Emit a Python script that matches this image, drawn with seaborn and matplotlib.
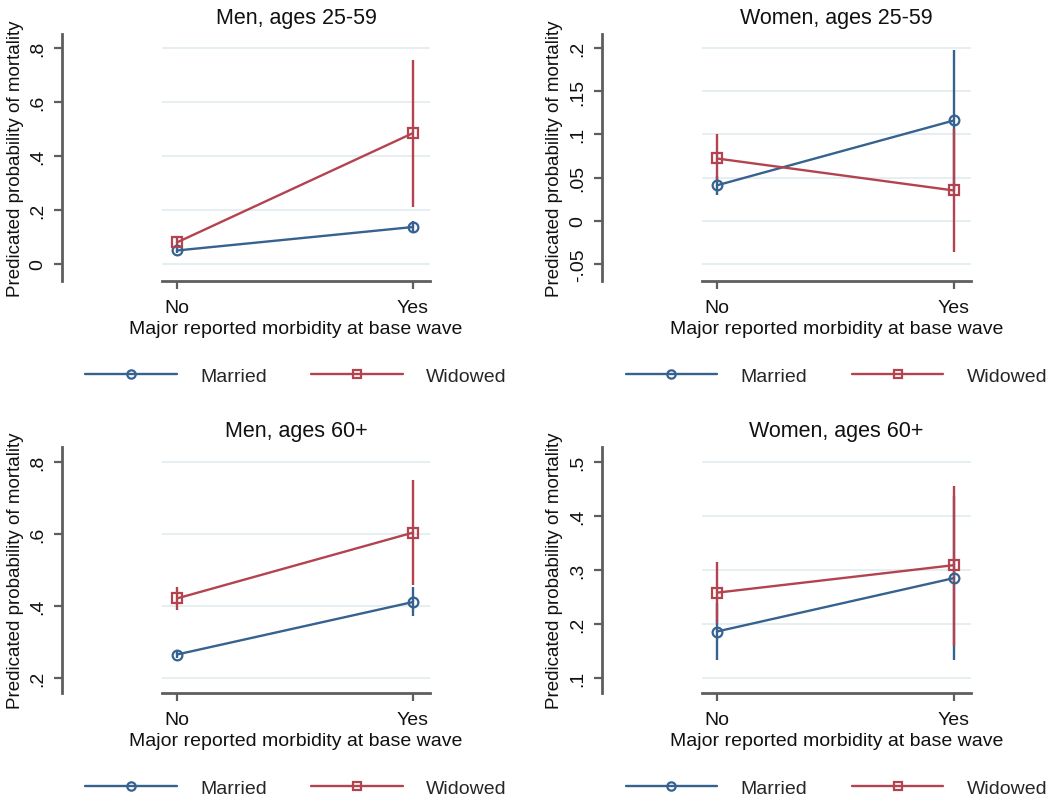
import matplotlib
matplotlib.use("Agg")
import matplotlib.pyplot as plt
from matplotlib.lines import Line2D
import seaborn as sns
import pandas as pd

sns.set_theme(style="white")
plt.rcParams['font.family'] = ['Liberation Sans', 'DejaVu Sans']

# ---------------- data ----------------
categories = ["No", "Yes"]
groups = ["Married", "Widowed"]
titles = ["Men, ages 25-59", "Women, ages 25-59", "Men, ages 60+", "Women, ages 60+"]

# Men 25-59
m_young_married_est = [0.050, 0.137]
m_young_married_lo = [0.040, 0.116]
m_young_married_hi = [0.060, 0.158]
m_young_widowed_est = [0.080, 0.485]
m_young_widowed_lo = [0.060, 0.212]
m_young_widowed_hi = [0.100, 0.757]
# Women 25-59
w_young_married_est = [0.041, 0.116]
w_young_married_lo = [0.030, 0.034]
w_young_married_hi = [0.052, 0.198]
w_young_widowed_est = [0.072, 0.035]
w_young_widowed_lo = [0.045, -0.036]
w_young_widowed_hi = [0.100, 0.106]
# Men 60+
m_old_married_est = [0.265, 0.411]
m_old_married_lo = [0.255, 0.372]
m_old_married_hi = [0.275, 0.452]
m_old_widowed_est = [0.421, 0.604]
m_old_widowed_lo = [0.388, 0.457]
m_old_widowed_hi = [0.453, 0.750]
# Women 60+
w_old_married_est = [0.186, 0.285]
w_old_married_lo = [0.133, 0.133]
w_old_married_hi = [0.238, 0.437]
w_old_widowed_est = [0.258, 0.309]
w_old_widowed_lo = [0.201, 0.160]
w_old_widowed_hi = [0.315, 0.455]

yticks_list = [
    [0, 0.2, 0.4, 0.6, 0.8],
    [-0.05, 0, 0.05, 0.1, 0.15, 0.2],
    [0.2, 0.4, 0.6, 0.8],
    [0.1, 0.2, 0.3, 0.4, 0.5],
]
yticklabels_list = [
    ["0", ".2", ".4", ".6", ".8"],
    ["-.05", "0", ".05", ".1", ".15", ".2"],
    [".2", ".4", ".6", ".8"],
    [".1", ".2", ".3", ".4", ".5"],
]
ylims = [(-0.063, 0.852), (-0.0697, 0.216), (0.158, 0.842), (0.072, 0.528)]

panels = [
    ((m_young_married_est, m_young_married_lo, m_young_married_hi),
     (m_young_widowed_est, m_young_widowed_lo, m_young_widowed_hi)),
    ((w_young_married_est, w_young_married_lo, w_young_married_hi),
     (w_young_widowed_est, w_young_widowed_lo, w_young_widowed_hi)),
    ((m_old_married_est, m_old_married_lo, m_old_married_hi),
     (m_old_widowed_est, m_old_widowed_lo, m_old_widowed_hi)),
    ((w_old_married_est, w_old_married_lo, w_old_married_hi),
     (w_old_widowed_est, w_old_widowed_lo, w_old_widowed_hi)),
]

colors = {"Married": "#36628f", "Widowed": "#b3434f"}
markers = {"Married": "o", "Widowed": "s"}
spine_col = "#5e5e5e"
grid_col = "#e3eef0"

W, H = 1057, 804
fig = plt.figure(figsize=(W / 100, H / 100), dpi=100)

# axes boxes in pixel coords (left, top, right, bottom)
boxes = [(162, 35, 430, 282), (702, 35, 971, 282),
         (162, 448, 430, 694), (702, 448, 971, 694)]

for i, (box, data) in enumerate(zip(boxes, panels)):
    l, t, r, b = box
    ax = fig.add_axes([l / W, 1 - b / H, (r - l) / W, (b - t) / H])
    rows = []
    for g, (est, lo, hi) in zip(groups, data):
        for xi, c in enumerate(categories):
            rows.append({"x": xi, "cat": c, "group": g, "est": est[xi],
                         "lo": lo[xi], "hi": hi[xi]})
    df = pd.DataFrame(rows)

    for k, g in enumerate(groups):
        sub = df[df["group"] == g]
        ax.vlines(sub["x"], sub["lo"], sub["hi"], color=colors[g], lw=1.7,
                  zorder=2 + k * 0.2)
    sns.lineplot(data=df, x="x", y="est", hue="group", style="group",
                 hue_order=groups, style_order=groups,
                 palette=colors, markers=markers, dashes=False,
                 lw=1.7, markersize=7, legend=False, ax=ax, zorder=3)
    for line in ax.lines:
        line.set_markeredgecolor(line.get_color())
        line.set_markerfacecolor("none")
        line.set_markeredgewidth(1.6)

    ax.set_xlim(-0.0636, 1.072)
    ax.set_ylim(*ylims[i])
    ax.set_xticks([0, 1])
    ax.set_xticklabels(categories)
    ax.set_yticks(yticks_list[i])
    ax.set_yticklabels(yticklabels_list[i])
    ax.yaxis.grid(True, color=grid_col, lw=1.3)
    ax.xaxis.grid(False)
    ax.set_axisbelow(True)

    for s in ["top", "right"]:
        ax.spines[s].set_visible(False)
    ax.spines["left"].set_position(("outward", 72))
    for s in ["left", "bottom"]:
        ax.spines[s].set_color(spine_col)
        ax.spines[s].set_linewidth(2)
    ax.tick_params(axis="both", direction="out", length=6, width=1.6,
                   color=spine_col, labelcolor="#111111", labelsize=14,
                   left=True, bottom=True)
    ax.tick_params(axis="x", pad=7)
    ax.tick_params(axis="y", pad=5, labelrotation=90)
    for lab in ax.get_yticklabels():
        lab.set_va("center")
        lab.set_ha("right")

    ax.set_xlabel("Major reported morbidity at base wave", fontsize=14,
                  color="#111111")
    ax.xaxis.label.set_va("center")
    ax.xaxis.set_label_coords(0.5, -0.194)
    ax.set_ylabel("Predicated probability of mortality", fontsize=13.5,
                  color="#111111")
    ax.yaxis.label.set_va("center")
    ax.yaxis.set_label_coords(-0.548, 0.5)
    ax.set_title(titles[i], fontsize=15.5, pad=8, color="#111111")

    handles = [Line2D([0], [0], color=colors[g], marker=markers[g], lw=1.7,
                      markersize=6, markerfacecolor="none",
                      markeredgewidth=1.6) for g in groups]
    ax.legend(handles, groups, loc="center", bbox_to_anchor=(0.5, -0.385),
              ncol=2, frameon=False, handlelength=4.7, columnspacing=2.3,
              handletextpad=1.2, fontsize=14)

fig.savefig("out.png", dpi=100)
